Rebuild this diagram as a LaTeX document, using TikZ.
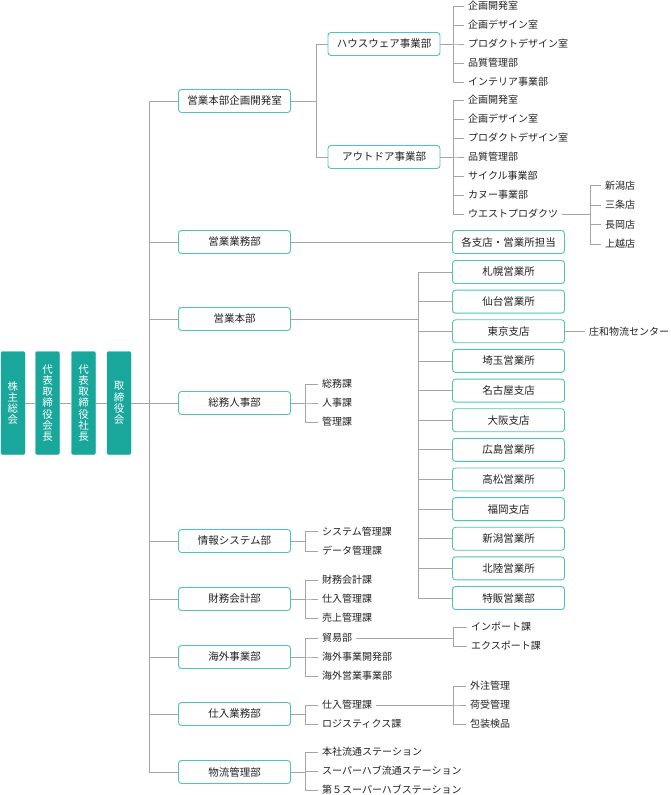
\documentclass[tikz,border=0pt]{standalone}
\usepackage{fontspec}
\setmainfont{Noto Sans CJK JP}
\usetikzlibrary{positioning,calc}
\definecolor{orgTeal}{HTML}{19A79B}
\definecolor{orgEdge}{HTML}{4FC4BA}
\definecolor{orgLine}{HTML}{A5A5A5}
\definecolor{orgText}{HTML}{222222}
\tikzset{
  exec/.style={
    fill=orgTeal, draw=orgTeal, rounded corners=2pt, minimum width=24pt,
    minimum height=103pt, inner sep=0pt, text=white, align=center,
    font=\fontsize{10.5}{11.3}\selectfont
  },
  dept/.style={
    draw=orgEdge, fill=white, line width=0.9pt, rounded corners=3pt,
    minimum width=112pt, minimum height=23pt, inner sep=0pt,
    font=\fontsize{10.5}{12}\selectfont, text=orgText
  },
  item/.style={anchor=west, inner xsep=4pt, inner ysep=1pt,
    font=\fontsize{10}{12}\selectfont, text=orgText},
  link/.style={draw=orgLine, line width=0.8pt}
}
\begin{document}
\begin{tikzpicture}[x=1pt, y=-1pt]
  \useasboundingbox (0,0) rectangle (670,795);

  % executives
  \node[exec] (kabunushi)   at (13,403)   {株\\主\\総\\会};
  \node[exec] (kaicho)      at (47.5,403) {代\\表\\取\\締\\役\\会\\長};
  \node[exec] (shacho)      at (83.5,403) {代\\表\\取\\締\\役\\社\\長};
  \node[exec] (torishimari) at (119,403)  {取\\締\\役\\会};

  % departments on the trunk
  \foreach \y/\nm/\lbl in {
    101/kikaku/営業本部企画開発室,
    242/gyomu/営業業務部,
    319/eigyo/営業本部,
    403/soumu/総務人事部,
    541/joho/情報システム部,
    599/zaimu/財務会計部,
    657/kaigai/海外事業部,
    714/shiire/仕入業務部,
    772/butsuryu/物流管理部}{
    \node[dept] (\nm) at (234.5,\y) {\lbl};
  }
  \coordinate (trunk) at (149,0);
  \draw[link] (trunk |- kikaku) -- (trunk |- butsuryu);
  \foreach \nm in {kikaku,gyomu,eigyo,soumu,joho,zaimu,kaigai,shiire,butsuryu}{
    \draw[link] (trunk |- \nm) -- (\nm.west);
  }
  \draw[link] (kabunushi) -- (kaicho);
  \draw[link] (kaicho) -- (shacho);
  \draw[link] (shacho) -- (torishimari);
  \draw[link] (torishimari.east) -- (trunk |- soumu);

  % 営業本部企画開発室
  \node[dept] (house)   at (384,44)  {ハウスウェア事業部};
  \node[dept] (outdoor) at (384,157) {アウトドア事業部};
  \draw[link] (kikaku.east) -- ++(25,0) |- (house.west);
  \draw[link] (kikaku.east) -- ++(25,0) |- (outdoor.west);
  \foreach \y/\nm/\lbl in {6/h1/企画開発室, 25/h2/企画デザイン室,
    44/h3/プロダクトデザイン室, 63/h4/品質管理部, 82/h5/インテリア事業部}{
    \node[item] (\nm) at (464,\y) {\lbl};
    \draw[link] (house.east) -- ++(13,0) |- (\nm.west);
  }
  \foreach \y/\nm/\lbl in {100/o1/企画開発室, 119/o2/企画デザイン室,
    138/o3/プロダクトデザイン室, 157/o4/品質管理部, 176/o5/サイクル事業部,
    195/o6/カヌー事業部, 214/o7/ウエストプロダクツ}{
    \node[item] (\nm) at (464,\y) {\lbl};
    \draw[link] (outdoor.east) -- ++(13,0) |- (\nm.west);
  }
  \coordinate (westv) at (590,0);
  \foreach \y/\nm/\lbl in {185.5/w1/新潟店, 205/w2/三条店, 224.5/w3/長岡店, 244/w4/上越店}{
    \node[item] (\nm) at (601,\y) {\lbl};
    \draw[link] (o7.east) -- (westv |- o7) |- (\nm.west);
  }

  % 営業業務部
  \node[dept] (kakushiten) at (508.5,242) {各支店・営業所担当};
  \draw[link] (gyomu.east) -- (kakushiten.west);

  % 営業本部
  \foreach \i/\nm/\lbl in {0/sapporo/札幌営業所, 1/sendai/仙台営業所,
    2/tokyo/東京支店, 3/saitama/埼玉営業所, 4/nagoya/名古屋支店,
    5/osaka/大阪支店, 6/hiroshima/広島営業所, 7/takamatsu/高松営業所,
    8/fukuoka/福岡支店, 9/niigata/新潟営業所, 10/hokuriku/北陸営業所,
    11/tokuhan/特販営業部}{
    \node[dept] (\nm) at (508.5,{272+29.64*\i}) {\lbl};
    \draw[link] (eigyo.east) -- ++(127,0) |- (\nm.west);
  }
  \node[item, right=20pt of tokyo] (showa) {庄和物流センター};
  \draw[link] (tokyo.east) -- (showa.west);

  % 総務人事部
  \foreach \y/\nm/\lbl in {384/s1/総務課, 403/s2/人事課, 422/s3/管理課}{
    \node[item] (\nm) at (318,\y) {\lbl};
    \draw[link] (soumu.east) -- ++(14.5,0) |- (\nm.west);
  }
  % 情報システム部
  \foreach \y/\nm/\lbl in {531.5/j1/システム管理課, 551/j2/データ管理課}{
    \node[item] (\nm) at (318,\y) {\lbl};
    \draw[link] (joho.east) -- ++(14.5,0) |- (\nm.west);
  }
  % 財務会計部
  \foreach \y/\nm/\lbl in {580/z1/財務会計課, 599/z2/仕入管理課, 618/z3/売上管理課}{
    \node[item] (\nm) at (318,\y) {\lbl};
    \draw[link] (zaimu.east) -- ++(14.5,0) |- (\nm.west);
  }
  % 海外事業部
  \foreach \y/\nm/\lbl in {638/k1/貿易部, 657/k2/海外事業開発部, 676/k3/海外営業事業部}{
    \node[item] (\nm) at (318,\y) {\lbl};
    \draw[link] (kaigai.east) -- ++(14.5,0) |- (\nm.west);
  }
  \coordinate (boekiv) at (453,0);
  \foreach \y/\nm/\lbl in {627/b1/インポート課, 646/b2/エクスポート課}{
    \node[item] (\nm) at (467,\y) {\lbl};
    \draw[link] (k1.east) -- (boekiv |- k1) |- (\nm.west);
  }
  % 仕入業務部
  \foreach \y/\nm/\lbl in {705/si1/仕入管理課, 724/si2/ロジスティクス課}{
    \node[item] (\nm) at (318,\y) {\lbl};
    \draw[link] (shiire.east) -- ++(14.5,0) |- (\nm.west);
  }
  \coordinate (shiirev) at (453,0);
  \foreach \y/\nm/\lbl in {686/g1/外注管理, 705/g2/荷受管理, 724/g3/包装検品}{
    \node[item] (\nm) at (466,\y) {\lbl};
    \draw[link] (si1.east) -- (shiirev |- si1) |- (\nm.west);
  }
  % 物流管理部
  \foreach \y/\nm/\lbl in {752/r1/本社流通ステーション, 771/r2/スーパーハブ流通ステーション,
    790/r3/第５スーパーハブステーション}{
    \node[item] (\nm) at (318,\y) {\lbl};
    \draw[link] (butsuryu.east) -- ++(14.5,0) |- (\nm.west);
  }
\end{tikzpicture}
\end{document}
